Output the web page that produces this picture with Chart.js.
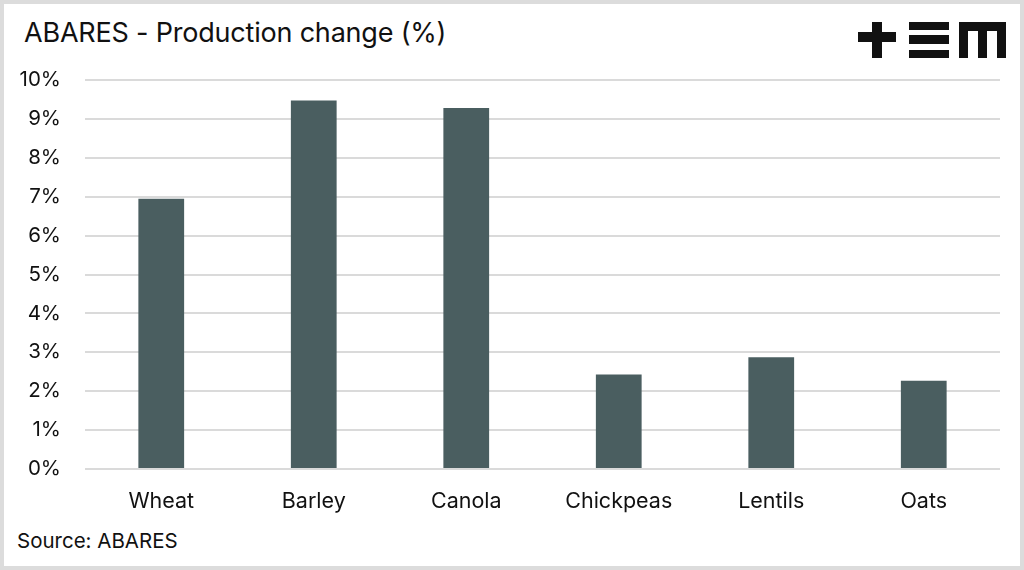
<!DOCTYPE html>
<html>
<head>
<meta charset="utf-8">
<script src="https://cdn.jsdelivr.net/npm/chart.js@4.4.0/dist/chart.umd.min.js"></script>
<style>
  body { margin: 0; background: #fff; }
  #wrap { position: relative; width: 1024px; height: 570px; box-sizing: border-box; border: 4px solid #dcdcdc; overflow: hidden; font-family: Inter, "Open Sans", sans-serif; color: #111; }
  #title { position: absolute; left: 20px; top: 12px; font-size: 27px; letter-spacing: -0.2px; }
  #source { position: absolute; left: 13px; top: 524px; font-size: 20.5px; }
  #logo { position: absolute; left: 851px; top: 14px; }
  canvas { position: absolute; left: -4px; top: -4px; }
</style>
</head>
<body>
<div id="wrap">
  <div id="title">ABARES - Production change (%)</div>
  <svg id="logo" width="152" height="42" viewBox="0 0 152 42">
    <!-- +  -->
    <rect x="3" y="14" width="38" height="10" fill="#111"/>
    <rect x="17" y="4" width="10" height="36" fill="#111"/>
    <!-- = (three bars) -->
    <rect x="54" y="4" width="40" height="8" fill="#111"/>
    <rect x="54" y="17" width="40" height="9" fill="#111"/>
    <rect x="54" y="32" width="40" height="8" fill="#111"/>
    <!-- m -->
    <path d="M104 4 H151 V40 H142 V13 H132 V40 H123 V13 H113 V40 H104 Z" fill="#111"/>
  </svg>
  <div id="source">Source: ABARES</div>
  <canvas id="hypno" width="1024" height="570"></canvas>
</div>
<script>
const categories = ['Wheat', 'Barley', 'Canola', 'Chickpeas', 'Lentils', 'Oats'];
const productionChange = [6.95, 9.47, 9.28, 2.43, 2.87, 2.27];
const yTicks = [0, 1, 2, 3, 4, 5, 6, 7, 8, 9, 10];

const ctx = document.getElementById('hypno').getContext('2d');
const barChart = new Chart(ctx, {
  type: 'bar',
  data: {
    labels: categories,
    datasets: [{
      label: 'Production change',
      data: productionChange,
      backgroundColor: '#4a5e60',
      borderWidth: 0,
      barPercentage: 0.6,
      categoryPercentage: 0.5
    }]
  },
  options: {
    responsive: false,
    animation: false,
    devicePixelRatio: 1,
    layout: {
      padding: { left: 0, right: 24, top: 80, bottom: 0 }
    },
    plugins: {
      legend: { display: false },
      tooltip: { enabled: false }
    },
    scales: {
      x: {
        grid: { display: false },
        border: { display: false },
        ticks: {
          color: '#111',
          padding: 12,
          font: { family: 'Inter', size: 21.5 }
        },
        afterFit(scale) { scale.height = 101; }
      },
      y: {
        min: yTicks[0],
        max: yTicks[yTicks.length - 1],
        afterBuildTicks(scale) { scale.ticks = yTicks.map(v => ({ value: v })); },
        grid: { color: '#dadada', lineWidth: 2, drawTicks: false },
        border: { display: false },
        ticks: {
          color: '#111',
          padding: 24,
          font: { family: 'Inter', size: 20.5 },
          callback: v => v + '%'
        },
        afterFit(scale) { scale.width = 85; }
      }
    }
  }
});
</script>
</body>
</html>
